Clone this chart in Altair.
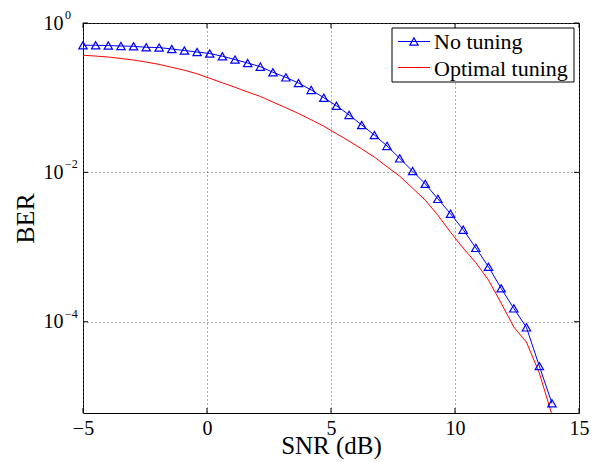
import altair as alt
import pandas as pd

snr = [-5.00, -4.49, -3.98, -3.47, -2.96, -2.45, -1.93, -1.42, -0.91, -0.40,
       0.11, 0.62, 1.13, 1.64, 2.15, 2.66, 3.18, 3.69, 4.20, 4.71,
       5.22, 5.73, 6.24, 6.75, 7.26, 7.77, 8.29, 8.80, 9.31, 9.82,
       10.33, 10.84, 11.35, 11.86, 12.37, 12.88, 13.40, 13.91]

ber_no_tuning = [0.503, 0.503, 0.499, 0.492, 0.488, 0.473, 0.469, 0.449, 0.428, 0.409,
                 0.390, 0.359, 0.324, 0.291, 0.260, 0.219, 0.187, 0.157, 0.127, 0.0998,
                 0.0780, 0.0588, 0.0431, 0.0316, 0.0226, 0.0154, 0.0104, 0.00702, 0.00442, 0.00279,
                 0.00171, 0.000975, 0.000545, 0.000280, 0.000151, 8.41e-5, 2.55e-5, 8.1e-6]

ber_optimal = [0.370, 0.361, 0.350, 0.335, 0.319, 0.300, 0.279, 0.255, 0.233, 0.209,
               0.182, 0.158, 0.138, 0.119, 0.104, 0.0874, 0.0734, 0.0614, 0.0507, 0.0415,
               0.0330, 0.0262, 0.0206, 0.0160, 0.0119, 0.00889, 0.00615, 0.00425, 0.00267, 0.00158,
               0.000968, 0.000619, 0.000361, 0.000178, 8.5e-5, 5.35e-5, 2.06e-5, 5.65e-6]

series_names = ["No tuning", "Optimal tuning"]
x_ticks = [-5, 0, 5, 10, 15]
y_ticks = [1, 0.01, 0.0001]
y_exponents = ["0", "\u22122", "\u22124"]

W, H = 496, 390
FONT = "Liberation Serif"

df = pd.DataFrame({
    "snr": snr * 2,
    "ber": ber_no_tuning + ber_optimal,
    "series": [series_names[0]] * len(snr) + [series_names[1]] * len(snr),
})
df_blue = df[df.series == series_names[0]]
df_red = df[df.series == series_names[1]]

xscale = alt.Scale(domain=[-5, 15], nice=False, zero=False)
yscale = alt.Scale(type="log", domain=[6e-6, 1], nice=False)

xaxis = alt.Axis(values=x_ticks, title="SNR (dB)", grid=True, gridDash=[1, 3],
                 gridColor="#555", gridWidth=1, tickSize=0, domain=False,
                 labelFont=FONT, labelFontSize=20, labelColor="black", labelPadding=5,
                 titleFont=FONT, titleFontSize=25, titleFontWeight="normal",
                 titleColor="black", titlePadding=-5, labelFlush=False)
yaxis = alt.Axis(values=y_ticks, title="BER", grid=True, gridDash=[1, 3],
                 gridColor="#555", gridWidth=1, tickSize=0, domain=False,
                 labelExpr="'10'", labelFont=FONT, labelFontSize=20, labelColor="black",
                 labelPadding=20, labelBaseline="middle",
                 titleFont=FONT, titleFontSize=26, titleFontWeight="normal",
                 titleColor="black", titlePadding=5)

base_x = alt.X("snr:Q", scale=xscale, axis=xaxis)
base_y = alt.Y("ber:Q", scale=yscale, axis=yaxis)

red_line = alt.Chart(df_red).mark_line(color="#ff0000", strokeWidth=1, clip=True).encode(
    x=base_x, y=base_y)
blue_line = alt.Chart(df_blue).mark_line(color="#0000ff", strokeWidth=1, clip=True).encode(
    x=alt.X("snr:Q", scale=xscale), y=alt.Y("ber:Q", scale=yscale))
blue_pts = alt.Chart(df_blue).mark_point(shape="triangle-up", size=70, filled=False,
                                         color="#0000ff", strokeWidth=1.2, opacity=1).encode(
    x=alt.X("snr:Q", scale=xscale), y=alt.Y("ber:Q", scale=yscale))

xt = pd.DataFrame({"snr": x_ticks})
yt = pd.DataFrame({"ber": y_ticks, "exp": y_exponents})

xtick_b = alt.Chart(xt).mark_rule(color="black").encode(
    x=alt.X("snr:Q", scale=xscale), y=alt.value(H), y2=alt.value(H - 5))
xtick_t = alt.Chart(xt).mark_rule(color="black").encode(
    x=alt.X("snr:Q", scale=xscale), y=alt.value(0), y2=alt.value(5))
ytick_l = alt.Chart(yt).mark_rule(color="black").encode(
    y=alt.Y("ber:Q", scale=yscale), x=alt.value(0), x2=alt.value(5))
ytick_r = alt.Chart(yt).mark_rule(color="black").encode(
    y=alt.Y("ber:Q", scale=yscale), x=alt.value(W), x2=alt.value(W - 5))
yexp = alt.Chart(yt).mark_text(font=FONT, fontSize=12, align="left", baseline="middle",
                               dx=-18, dy=-8, color="black").encode(
    y=alt.Y("ber:Q", scale=yscale), x=alt.value(0), text="exp:N")

# legend
lg_box = alt.Chart(pd.DataFrame({"k": [0]})).mark_rect(fill="white", stroke="black",
                                                       strokeWidth=1).encode(
    x=alt.value(309), x2=alt.value(491), y=alt.value(5), y2=alt.value(59))
lg_b_line = alt.Chart(pd.DataFrame({"k": [0]})).mark_rule(color="#0000ff", strokeWidth=1).encode(
    x=alt.value(315), x2=alt.value(347), y=alt.value(18.5))
lg_b_pt = alt.Chart(pd.DataFrame({"k": [0]})).mark_point(shape="triangle-up", size=70,
                                                         filled=False, color="#0000ff",
                                                         strokeWidth=1.2, opacity=1).encode(
    x=alt.value(331), y=alt.value(18.5))
lg_r_line = alt.Chart(pd.DataFrame({"k": [0]})).mark_rule(color="#ff0000", strokeWidth=1).encode(
    x=alt.value(315), x2=alt.value(347), y=alt.value(44.5))
lg_t1 = alt.Chart(pd.DataFrame({"label": [series_names[0]]})).mark_text(
    font=FONT, fontSize=22, align="left", baseline="alphabetic", color="black").encode(
    x=alt.value(351), y=alt.value(26), text="label:N")
lg_t2 = alt.Chart(pd.DataFrame({"label": [series_names[1]]})).mark_text(
    font=FONT, fontSize=22, align="left", baseline="alphabetic", color="black").encode(
    x=alt.value(351), y=alt.value(52.5), text="label:N")

chart = alt.layer(
    red_line, blue_line, blue_pts,
    xtick_b, xtick_t, ytick_l, ytick_r, yexp,
    lg_box, lg_b_line, lg_b_pt, lg_r_line, lg_t1, lg_t2,
).properties(
    width=W, height=H,
    autosize=alt.AutoSizeParams(type="none"),
    padding={"left": 75, "top": 15, "right": 12, "bottom": 48},
    background="white",
).configure_view(stroke="black", strokeWidth=1)

chart.save("out.html", embed_options={"renderer": "svg", "actions": False})
